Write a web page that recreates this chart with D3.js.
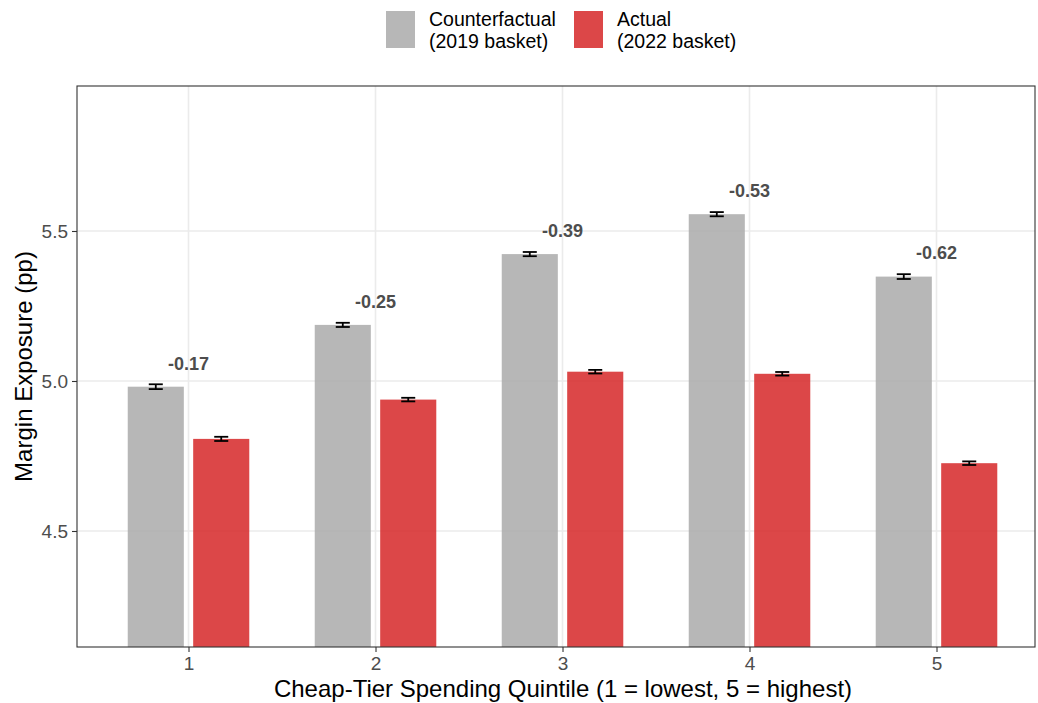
<!DOCTYPE html>
<html>
<head>
<meta charset="utf-8">
<script src="https://cdn.jsdelivr.net/npm/d3@7"></script>
<style>
  html, body { margin: 0; padding: 0; background: #ffffff; }
  svg { display: block; font-family: "Liberation Sans", Arial, Helvetica, sans-serif; }
</style>
</head>
<body>
<svg id="chart" width="1038" height="703"></svg>
<script>
// Quintiles of cheap-tier spending
const quintiles = [1, 2, 3, 4, 5];
// Margin exposure (pp) under the 2019 basket (counterfactual) and the 2022 basket (actual)
const counterfactual = [4.981, 5.187, 5.423, 5.556, 5.348];
const actual = [4.807, 4.938, 5.031, 5.024, 4.726];
// Standard errors shown as error bars
const counterfactualSE = [0.008, 0.007, 0.007, 0.007, 0.008];
const actualSE = [0.007, 0.006, 0.006, 0.006, 0.006];
// Axis ticks
const yTicks = [4.5, 5.0, 5.5];
const seriesNames = ["Counterfactual\n(2019 basket)", "Actual\n(2022 basket)"];
const seriesColors = ["#aaaaaa", "#d62728"];

const svg = d3.select("#chart");
const panel = { left: 77, top: 86, right: 1035, bottom: 647 };

const x = d3.scaleLinear().domain([0.4037, 5.5267]).range([panel.left, panel.right]);
const y = d3.scaleLinear().domain([4.1133, 5.9833]).range([panel.bottom, panel.top]);

const barW = 0.3, offset = 0.175, errW = 0.075;

// clip for the panel
svg.append("defs").append("clipPath").attr("id", "panelClip")
  .append("rect")
  .attr("x", panel.left).attr("y", panel.top)
  .attr("width", panel.right - panel.left).attr("height", panel.bottom - panel.top);

// grid
const grid = svg.append("g").attr("clip-path", "url(#panelClip)");
grid.selectAll("line.h").data(yTicks).join("line")
  .attr("x1", panel.left).attr("x2", panel.right)
  .attr("y1", d => y(d)).attr("y2", d => y(d))
  .attr("stroke", "#ebebeb").attr("stroke-width", 1.6);
grid.selectAll("line.v").data(quintiles).join("line")
  .attr("y1", panel.top).attr("y2", panel.bottom)
  .attr("x1", d => x(d)).attr("x2", d => x(d))
  .attr("stroke", "#ebebeb").attr("stroke-width", 1.6);

// bars
const rows = quintiles.map((q, i) => ({
  q, cf: counterfactual[i], act: actual[i], cfSE: counterfactualSE[i], actSE: actualSE[i]
}));
const bars = [];
rows.forEach(r => {
  bars.push({ q: r.q, pos: r.q - offset, v: r.cf, se: r.cfSE, s: 0 });
  bars.push({ q: r.q, pos: r.q + offset, v: r.act, se: r.actSE, s: 1 });
});

const plot = svg.append("g").attr("clip-path", "url(#panelClip)");
plot.selectAll("rect.bar").data(bars).join("rect")
  .attr("class", "bar")
  .attr("x", d => x(d.pos - barW / 2))
  .attr("width", d => x(d.pos + barW / 2) - x(d.pos - barW / 2))
  .attr("y", d => y(d.v))
  .attr("height", d => y.range()[0] - y(d.v))
  .attr("fill", d => seriesColors[d.s])
  .attr("fill-opacity", 0.85);

// error bars
const eb = plot.selectAll("g.err").data(bars).join("g").attr("class", "err")
  .attr("stroke", "#000").attr("stroke-width", 1.8);
eb.append("line")
  .attr("x1", d => x(d.pos)).attr("x2", d => x(d.pos))
  .attr("y1", d => y(d.v - d.se)).attr("y2", d => y(d.v + d.se));
eb.append("line")
  .attr("x1", d => x(d.pos - errW / 2)).attr("x2", d => x(d.pos + errW / 2))
  .attr("y1", d => y(d.v + d.se)).attr("y2", d => y(d.v + d.se));
eb.append("line")
  .attr("x1", d => x(d.pos - errW / 2)).attr("x2", d => x(d.pos + errW / 2))
  .attr("y1", d => y(d.v - d.se)).attr("y2", d => y(d.v - d.se));

// difference labels
plot.selectAll("text.diff").data(rows).join("text")
  .attr("class", "diff")
  .attr("x", d => x(d.q))
  .attr("y", d => y(d.cf + 0.078))
  .attr("dy", "0.35em")
  .attr("text-anchor", "middle")
  .attr("font-size", 18).attr("font-weight", "bold")
  .attr("fill", "#4d4d4d")
  .text(d => (d.act - d.cf).toFixed(2));

// panel border
svg.append("rect")
  .attr("x", panel.left).attr("y", panel.top)
  .attr("width", panel.right - panel.left).attr("height", panel.bottom - panel.top)
  .attr("fill", "none").attr("stroke", "#333333").attr("stroke-width", 1.1);

// axes
const yAxis = svg.append("g")
  .attr("transform", `translate(${panel.left},0)`)
  .call(d3.axisLeft(y).tickValues(yTicks).tickFormat(d3.format(".1f")).tickSize(5).tickPadding(4));
const xAxis = svg.append("g")
  .attr("transform", `translate(0,${panel.bottom})`)
  .call(d3.axisBottom(x).tickValues(quintiles).tickFormat(d3.format("d")).tickSize(5).tickPadding(5));
[xAxis, yAxis].forEach(a => {
  a.select(".domain").remove();
  a.selectAll(".tick line").attr("stroke", "#333333").attr("stroke-width", 1.1);
  a.selectAll(".tick text").attr("fill", "#4d4d4d").attr("font-size", 19)
    .attr("font-family", "Liberation Sans, Arial, sans-serif");
});

// axis titles
svg.append("text")
  .attr("x", (panel.left + panel.right) / 2 + 7).attr("y", 697)
  .attr("text-anchor", "middle").attr("font-size", 24).attr("fill", "#000")
  .text("Cheap-Tier Spending Quintile (1 = lowest, 5 = highest)");
svg.append("text")
  .attr("transform", `translate(32,${(panel.top + panel.bottom) / 2}) rotate(-90)`)
  .attr("text-anchor", "middle").attr("font-size", 24).attr("fill", "#000")
  .text("Margin Exposure (pp)");

// legend
const legend = svg.append("g");
const legendX = [386, 574];
seriesNames.forEach((name, i) => {
  const g = legend.append("g").attr("transform", `translate(${legendX[i]},11)`);
  g.append("rect").attr("width", 29).attr("height", 37)
    .attr("fill", seriesColors[i]).attr("fill-opacity", 0.85);
  const t = g.append("text").attr("x", 43).attr("y", 15)
    .attr("font-size", 19.5).attr("fill", "#000");
  name.split("\n").forEach((line, k) => {
    t.append("tspan").attr("x", 43).attr("dy", k === 0 ? 0 : 22).text(line);
  });
});
</script>
</body>
</html>
